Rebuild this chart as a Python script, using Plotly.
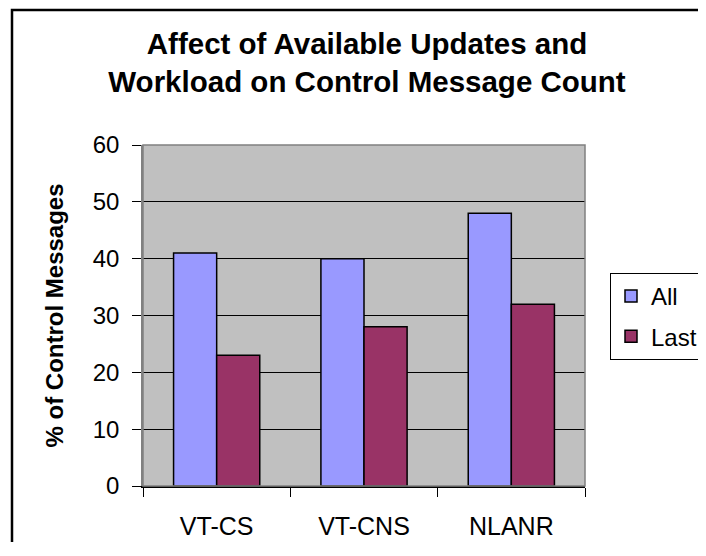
import plotly.graph_objects as go

categories = ["VT-CS", "VT-CNS", "NLANR"]
all_values = [41, 40, 48]
last_values = [23, 28, 32]
y_ticks = [0, 10, 20, 30, 40, 50, 60]

FONT = "Liberation Sans, Arial, sans-serif"

fig = go.Figure()
fig.add_trace(go.Bar(name="All", x=categories, y=all_values, legendgroup="a",
                     marker=dict(color="#9999FF", line=dict(color="black", width=1.5))))
fig.add_trace(go.Bar(name="Last", x=categories, y=last_values, legendgroup="b",
                     marker=dict(color="#993366", line=dict(color="black", width=1.5))))

# page body has an 8px margin; figure coordinates = screen - 8
W, H = 698, 534
L, R, T, B = 135, 577, 137, 478
pw, ph = R - L, B - T

def px(x):
    return (x - L) / pw

def py(y):
    return (B - y) / ph

frame_path = "M {x0},{y0} L {x0},{y1} L {x2},{y1}".format(
    x0=px(4), y0=py(600), y1=py(2), x2=px(800))

fig.update_layout(
    width=W, height=H,
    margin=dict(l=L, r=W - R, t=T, b=H - B, autoexpand=False),
    paper_bgcolor="white",
    plot_bgcolor="#C0C0C0",
    barmode="group",
    bargap=0.415,
    bargroupgap=0,
    font=dict(family=FONT, color="black", size=22),
    title=dict(
        text="Affect of Available Updates and<br>Workload on Control Message Count",
        x=359 / W, xanchor="center", y=1 - 46 / H, yanchor="top",
        font=dict(family=FONT, size=29.5, weight="bold", color="black"),
    ),
    legend=dict(
        xref="container", yref="container",
        x=602 / W, y=1 - 265 / H, xanchor="left", yanchor="top",
        bordercolor="black", borderwidth=1, bgcolor="white",
        font=dict(family=FONT, size=24, color="black"),
        itemwidth=30, tracegroupgap=6,
    ),
    showlegend=True,
    shapes=[
        dict(type="rect", xref="paper", yref="paper",
             x0=0, x1=1, y0=0, y1=1, line=dict(color="#808080", width=1.5), layer="above"),
        dict(type="path", xref="paper", yref="paper", path=frame_path,
             line=dict(color="black", width=2.5)),
    ],
)

fig.update_xaxes(
    type="category", tickson="boundaries", ticks="outside", ticklen=9,
    tickcolor="black", showline=True, linecolor="black", linewidth=1.5,
    tickfont=dict(family=FONT, size=25), ticklabelstandoff=17,
    showgrid=False, automargin=False,
)
fig.update_yaxes(
    range=[0, 60], tickvals=y_ticks, ticks="outside", ticklen=9,
    tickcolor="black", showline=True, linecolor="#808080", linewidth=1.5,
    showgrid=True, gridcolor="black", gridwidth=1,
    tickfont=dict(family=FONT, size=24), ticklabelstandoff=8,
    title=dict(text="% of Control Messages", standoff=22,
               font=dict(family=FONT, size=24, weight="bold")),
    zeroline=False, automargin=False,
)

fig.write_html("out.html")
